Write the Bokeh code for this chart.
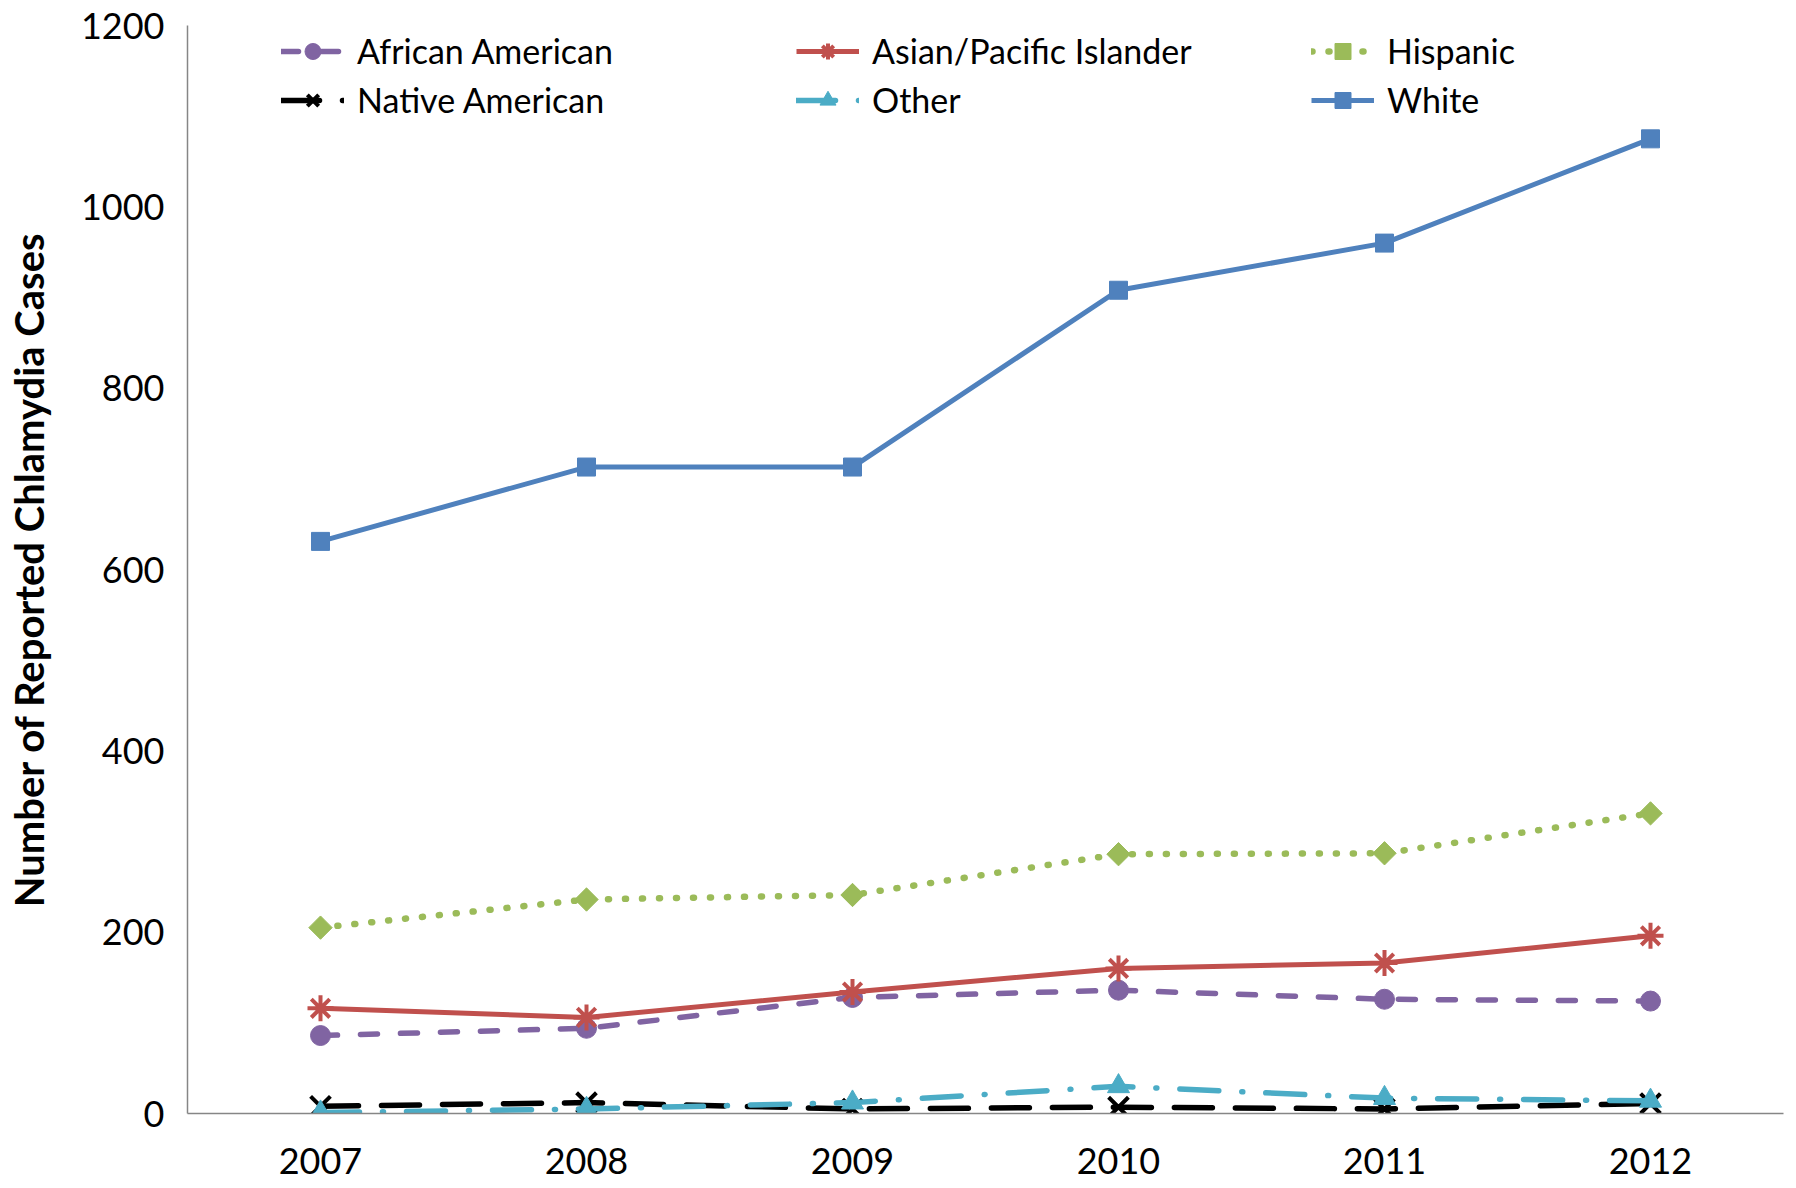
import math
from bokeh.plotting import figure
from bokeh.models import Range1d, FactorRange, FixedTicker, Legend, LegendItem
from bokeh.embed import file_html
from bokeh.resources import INLINE

years = ["2007", "2008", "2009", "2010", "2011", "2012"]
african_american = [86, 94, 128, 136, 126, 124]
asian_pacific = [116, 106, 134, 160, 166, 196]
hispanic = [205, 236, 241, 286, 287, 331]
native_american = [8, 12, 5, 7, 5, 11]
other = [1, 5, 12, 30, 17, 14]
white = [631, 713, 713, 908, 960, 1075]
y_ticks = [0, 200, 400, 600, 800, 1000, 1200]

FONT = "Lato"
AXIS_GRAY = "#868686"

p = figure(width=1790, height=1188, output_backend="svg", toolbar_location=None,
           x_range=FactorRange(factors=years, range_padding=0),
           y_range=Range1d(0, 1200),
           min_border_left=187, min_border_right=7, min_border_top=25, min_border_bottom=75)
p.outline_line_color = None
p.xgrid.visible = False
p.ygrid.visible = False

for ax in (p.xaxis[0], p.yaxis[0]):
    ax.axis_line_color = AXIS_GRAY
    ax.axis_line_width = 1.5
    ax.major_tick_in = 0
    ax.major_tick_out = 0
    ax.minor_tick_in = 0
    ax.minor_tick_out = 0
    ax.major_label_text_font = FONT
    ax.major_label_text_font_size = "36px"
    ax.major_label_text_color = "black"

p.yaxis[0].ticker = FixedTicker(ticks=y_ticks)
p.yaxis[0].major_label_standoff = 23
p.xaxis[0].major_label_standoff = 34
p.yaxis[0].axis_label = "Number of Reported Chlamydia Cases"
p.yaxis[0].axis_label_text_font = FONT
p.yaxis[0].axis_label_text_font_style = "bold"
p.yaxis[0].axis_label_text_font_size = "40px"
p.yaxis[0].axis_label_text_color = "black"
p.yaxis[0].axis_label_standoff = 25

series = [
    ("African American", african_american, "#8064A2", "17 23", "circle", 20, 0, 5.5),
    ("Asian/Pacific Islander", asian_pacific, "#C0504D", "solid", "asterisk", 26, 0, 5),
    ("Hispanic", hispanic, "#9BBB59", "1 16", "square", 16.5, math.pi / 4, 6.5),
    ("Native American", native_american, "#000000", "38 23", "x", 28, 0, 5.5),
    ("Other", other, "#4BACC6", "39 23 1 23", "triangle", 22, 0, 5.5),
    ("White", white, "#4F81BD", "solid", "square", 18, 0, 5),
]

items = []
for name, vals, color, dash, marker, size, angle, lw in series:
    ln = p.line(years, vals, line_color=color, line_width=lw, line_dash=dash,
                line_cap="round" if dash != "solid" else "butt", line_join="round")
    mk_lw = 4 if marker in ("asterisk", "x") else 1
    sc = p.scatter(years, vals, marker=marker, size=size, angle=angle,
                   fill_color=color, line_color=color, line_width=mk_lw)
    items.append(LegendItem(label=name, renderers=[ln, sc]))

col_x = [94, 609, 1124]
for c in range(3):
    leg = Legend(items=[items[c], items[c + 3]], location=(col_x[c], 993),
                 orientation="vertical", padding=0, margin=0, spacing=8,
                 glyph_width=63, glyph_height=40, label_height=40,
                 label_standoff=13, label_text_font=FONT,
                 label_text_font_size="34px", label_text_color="black",
                 border_line_color=None, background_fill_alpha=0)
    p.add_layout(leg, "center")

open("out.html", "w").write(file_html(p, INLINE))
